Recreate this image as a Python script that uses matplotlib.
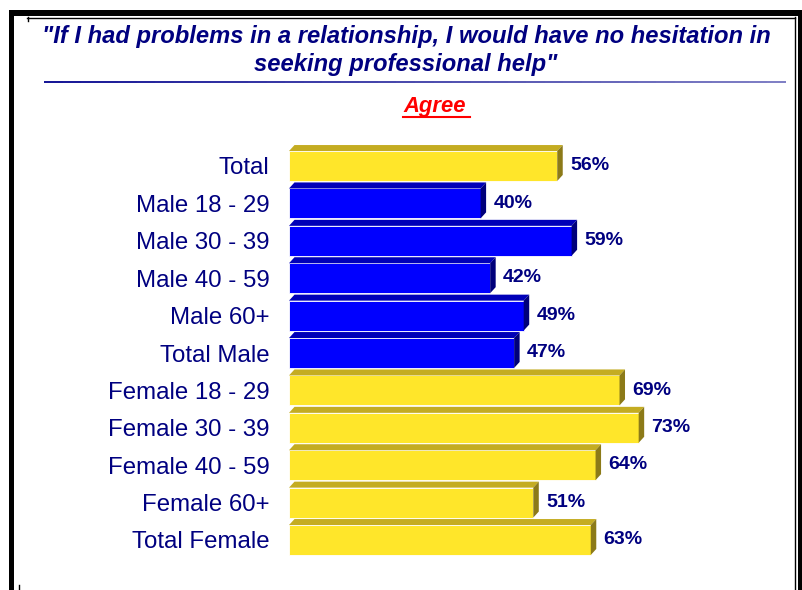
import matplotlib
matplotlib.use("Agg")
import matplotlib.pyplot as plt
from matplotlib.patches import Polygon, Rectangle
from matplotlib.lines import Line2D

categories = ["Total", "Male 18 - 29", "Male 30 - 39", "Male 40 - 59", "Male 60+",
              "Total Male", "Female 18 - 29", "Female 30 - 39", "Female 40 - 59",
              "Female 60+", "Total Female"]
values = [56, 40, 59, 42, 49, 47, 69, 73, 64, 51, 63]
groups = ["total", "male", "male", "male", "male", "male",
          "female", "female", "female", "female", "female"]
value_labels = [f"{v}%" for v in values]
title_line1 = '"If I had problems in a relationship, I would have no hesitation in'
title_line2 = 'seeking professional help"'
subtitle = "Agree"

FONT = "Liberation Sans"
NAVY = "#000080"
face = {"total": "#FFE62A", "female": "#FFE62A", "male": "#0000FF"}
topc = {"total": "#C4AC22", "female": "#C4AC22", "male": "#0000B8"}
sidec = {"total": "#8C7A18", "female": "#8C7A18", "male": "#00007A"}

W, H = 802, 590
fig = plt.figure(figsize=(W / 100, H / 100), dpi=100)

# overlay in pixel coordinates for frame decorations
deco = fig.add_axes([0, 0, 1, 1])
deco.set_xlim(0, W)
deco.set_ylim(H, 0)
deco.axis("off")
deco.add_patch(Rectangle((9, 10), W - 9, 6, color="black", lw=0))
deco.add_patch(Rectangle((9, 10), 5, H - 10, color="black", lw=0))
deco.add_patch(Rectangle((798, 10), 4, H - 10, color="black", lw=0))
deco.add_line(Line2D([27, 795], [17.5, 17.5], color="black", lw=1))
deco.add_line(Line2D([794.5, 794.5], [17, H], color="black", lw=1))
deco.add_line(Line2D([27.5, 27.5], [17, 21], color="black", lw=1))
deco.add_line(Line2D([18.5, 18.5], [585, H], color="black", lw=1))
# title rule with slight gradient
n = 40
x0, x1 = 44, 786
for k in range(n):
    t = k / (n - 1)
    c = (0.0 + 0.45 * t, 0.0 + 0.45 * t, 0.55 + 0.2 * t)
    deco.add_line(Line2D([x0 + (x1 - x0) * k / n, x0 + (x1 - x0) * (k + 1) / n],
                         [81.5, 81.5], color=c, lw=1.3, solid_capstyle="butt"))

fig.text(406 / W, 1 - 37 / H, title_line1, ha="center", va="center",
         fontsize=17.1, fontweight="bold", fontstyle="italic", color=NAVY, family=FONT)
fig.text(406 / W, 1 - 65 / H, title_line2, ha="center", va="center",
         fontsize=17.1, fontweight="bold", fontstyle="italic", color=NAVY, family=FONT)
fig.text(403 / W, 1 - 106 / H, subtitle, ha="left", va="center",
         fontsize=15.8, fontweight="bold", fontstyle="italic", color="red", family=FONT)
deco.add_line(Line2D([403, 470], [117, 117], color="red", lw=1.5))

# bar axes
ppu = 4.79
left = 289
right = left + 100 * ppu
row0, step = 166, 37.4
top = row0 - 0.6 * step
bottom = row0 + 10.6 * step
ax = fig.add_axes([left / W, 1 - bottom / H, (right - left) / W, (bottom - top) / H])
ax.set_xlim(0, 100)
ax.set_ylim(10.6, -0.6)
for s in ax.spines.values():
    s.set_visible(False)
ax.set_xticks([])
ax.set_facecolor("none")

h = 0.8
dx = 5.5 / ppu
dy = 6.0 / step
ypos = list(range(len(categories)))
ax.barh(ypos, values, height=h, color=[face[g] for g in groups],
        edgecolor="white", linewidth=0.6)
for y, v, g in zip(ypos, values, groups):
    ytop = y - h / 2
    ybot = y + h / 2
    ax.add_patch(Polygon([(0, ytop), (v, ytop), (v + dx, ytop - dy), (dx, ytop - dy)],
                         closed=True, facecolor=topc[g], edgecolor="none"))
    ax.add_patch(Polygon([(v, ytop), (v + dx, ytop - dy), (v + dx, ybot - dy), (v, ybot)],
                         closed=True, facecolor=sidec[g], edgecolor="none"))

for y, v, lab in zip(ypos, values, value_labels):
    ax.text(v + 2.7, y - 0.01, lab, ha="left", va="center", fontsize=14,
            fontweight="bold", color=NAVY, family=FONT)

ax.set_yticks(ypos)
ax.set_yticklabels(categories, fontsize=17.3, color=NAVY, family=FONT)
ax.tick_params(axis="y", length=0, pad=14)

fig.savefig("out.png", dpi=100)
